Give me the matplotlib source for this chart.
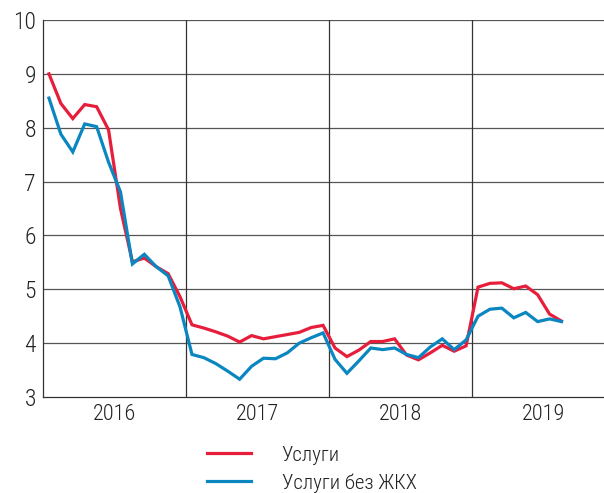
import matplotlib
matplotlib.use("Agg")
import matplotlib.pyplot as plt
from matplotlib import font_manager
import numpy as np

# prefer a narrow face for the labels if one is installed
installed = {(f.name, f.stretch) for f in font_manager.fontManager.ttflist}
names = {n for n, _ in installed}
narrow = [n for n in ['Liberation Sans Narrow', 'Roboto Condensed', 'Open Sans Condensed',
                      'Noto Sans Condensed'] if n in names]
plt.rcParams['font.family'] = narrow + ['DejaVu Sans']
plt.rcParams['font.weight'] = 'light'
if not narrow:
    plt.rcParams['font.stretch'] = 'condensed'

# monthly values, Jan 2016 .. Aug 2019
years = ['2016', '2017', '2018', '2019']
uslugi = [9.00, 8.45, 8.17, 8.43, 8.39, 7.96, 6.50, 5.51, 5.58, 5.42, 5.29, 4.86,
          4.34, 4.28, 4.21, 4.13, 4.02, 4.14, 4.08, 4.12, 4.16, 4.20, 4.29, 4.33,
          3.91, 3.75, 3.87, 4.03, 4.03, 4.08, 3.78, 3.69, 3.82, 3.96, 3.85, 3.95,
          5.04, 5.11, 5.12, 5.01, 5.06, 4.90, 4.54, 4.41]
uslugi_bez_zhkh = [8.55, 7.88, 7.55, 8.07, 8.02, 7.36, 6.81, 5.47, 5.65, 5.42, 5.25, 4.67,
                   3.79, 3.73, 3.62, 3.48, 3.33, 3.57, 3.72, 3.71, 3.82, 4.00, 4.10, 4.19,
                   3.70, 3.44, 3.67, 3.91, 3.88, 3.91, 3.79, 3.73, 3.93, 4.08, 3.88, 4.06,
                   4.50, 4.63, 4.65, 4.47, 4.57, 4.40, 4.45, 4.40]

red = '#e61e3c'
blue = '#0a86c0'

fig = plt.figure(figsize=(6.04, 4.93), dpi=100)
ax = fig.add_axes([43/604, 96/493, 561/604, 377/493])

x = np.arange(len(uslugi)) + 0.5
ax.plot(x, uslugi, color=red, lw=2.3, solid_joinstyle='miter', zorder=3, label='Услуги')
ax.plot(x, uslugi_bez_zhkh, color=blue, lw=2.3, solid_joinstyle='miter', zorder=3,
        label='Услуги без ЖКХ')

ax.set_xlim(0, 47.07)
ax.set_ylim(3, 10)

# horizontal grid and year separators
for v in range(4, 11):
    ax.axhline(v, color='#555555', lw=0.9, zorder=1)
for k in range(1, len(years)):
    ax.axvline(12 * k, color='#333333', lw=0.9, zorder=1)

for s in ['top', 'right']:
    ax.spines[s].set_visible(False)
for s in ['left', 'bottom']:
    ax.spines[s].set_color('#333333')
    ax.spines[s].set_linewidth(0.9)

ax.set_yticks(range(3, 11))
ax.tick_params(axis='y', length=0, pad=5, labelsize=17, colors='#222222')
ax.set_xticks([12 * k + 6 for k in range(len(years))])
ax.set_xticklabels(years)
ax.tick_params(axis='x', length=0, pad=5, labelsize=16, colors='#222222')

fig.legend(loc='upper left', bbox_to_anchor=(188/604, 1 - 427/493), frameon=False,
           fontsize=15, handlelength=2.1, handletextpad=1.5, labelspacing=0.4,
           labelcolor='#222222')

fig.savefig('out.png', dpi=100)
